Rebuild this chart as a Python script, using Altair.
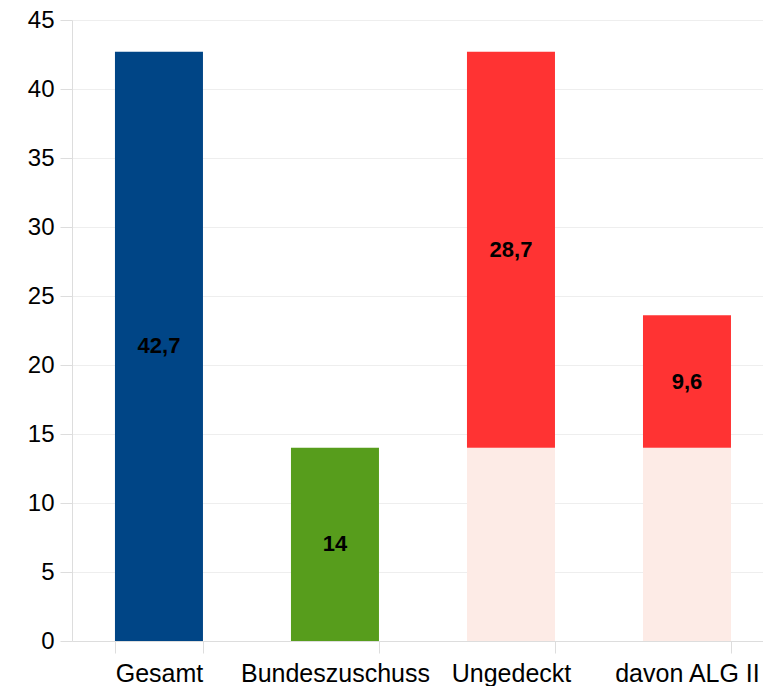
import altair as alt
import pandas as pd

categories = ["Gesamt", "Bundeszuschuss", "Ungedeckt", "davon ALG II"]
base_values = [0, 0, 14, 14]
values = [42.7, 14, 28.7, 9.6]
labels = ["42,7", "14", "28,7", "9,6"]
bar_colors = ["#004586", "#579d1c", "#ff3333", "#ff3333"]
base_color = "#fdebe6"

rows = []
for c, b, v, l, col in zip(categories, base_values, values, labels, bar_colors):
    if b > 0:
        rows.append({"cat": c, "start": 0, "end": b, "color": base_color, "label": ""})
    rows.append({"cat": c, "start": b, "end": b + v, "color": col, "label": l})
df = pd.DataFrame(rows)

x = alt.X("cat:N", sort=categories, title=None,
          scale=alt.Scale(paddingInner=0.5, paddingOuter=0.213, align=0.573),
          axis=alt.Axis(labelAngle=0, labelFontSize=25, labelColor="#000000",
                        labelPadding=8, labelLimit=400, tickSize=12,
                        tickColor="#dddddd", domainColor="#dddddd",
                        tickBand="extent", grid=False,
                        labelFont="Liberation Sans"))

bars = alt.Chart(df).mark_bar().encode(
    x=x,
    y=alt.Y("start:Q", title=None,
            scale=alt.Scale(domain=[0, 45], nice=False),
            axis=alt.Axis(values=list(range(0, 50, 5)), labelFontSize=24,
                          labelColor="#000000", labelPadding=6, tickSize=12,
                          tickColor="#dddddd", domainColor="#dddddd",
                          gridColor="#eeeeee", labelFont="Liberation Sans")),
    y2="end:Q",
    color=alt.Color("color:N", scale=None),
)

text = alt.Chart(df).transform_calculate(
    mid="(datum.start + datum.end) / 2"
).mark_text(fontSize=22, fontWeight="bold", color="#000000",
            font="Liberation Sans").encode(
    x=alt.X("cat:N", sort=categories),
    y=alt.Y("mid:Q"),
    text="label:N",
)

chart = (bars + text).properties(
    width=691, height=621,
    padding={"left": 19, "top": 0, "right": 0, "bottom": 0},
).configure_view(stroke=None).configure_axis(domainWidth=1)

chart.save("out.html", embed_options={"renderer": "svg", "actions": False})
